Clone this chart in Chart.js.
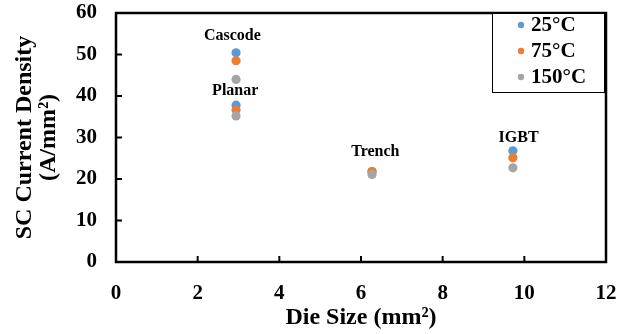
<!DOCTYPE html>
<html>
<head>
<meta charset="utf-8">
<script src="https://cdn.jsdelivr.net/npm/chart.js@4"></script>
<style>
html, body { margin: 0; padding: 0; background: #fff; }
#wrap { width: 632px; height: 334px; }
</style>
</head>
<body>
<div id="wrap"><canvas id="grafico" width="632" height="334"></canvas></div>
<script>
// series + device names
const tempLabels = ['25°C', '75°C', '150°C'];
const tempColors = ['#5B9BD5', '#ED7D31', '#A5A5A5'];
const deviceNames = ['Cascode', 'Planar', 'Trench', 'IGBT'];
const dieSize = [2.94, 2.94, 6.27, 9.72];
const density25 = [50.4, 37.8, 21.8, 26.8];
const density75 = [48.5, 36.6, 21.8, 25.1];
const density150 = [44.0, 35.2, 21.1, 22.7];
// where the device names sit (data units)
const nameX = [2.85, 2.92, 6.35, 9.86];
const nameY = [54.6, 41.2, 26.6, 29.8];

const serif = 'Liberation Serif, Times New Roman, serif';
const allSeries = [density25, density75, density150];

// frame round the plot, with tick marks pointing inward
const framePlugin = {
	id: 'frame',
	beforeDatasetsDraw(chart) {
		const { ctx, chartArea: a, scales } = chart;
		ctx.save();
		ctx.strokeStyle = '#000';
		ctx.lineWidth = 2;
		scales.x.ticks.forEach((t) => {
			const px = scales.x.getPixelForValue(t.value);
			if (px <= a.left + 1 || px >= a.right - 1) return;
			ctx.beginPath();
			ctx.moveTo(px, a.bottom);
			ctx.lineTo(px, a.bottom - 6);
			ctx.stroke();
		});
		scales.y.ticks.forEach((t) => {
			const py = scales.y.getPixelForValue(t.value);
			if (py <= a.top + 1 || py >= a.bottom - 1) return;
			ctx.beginPath();
			ctx.moveTo(a.left, py);
			ctx.lineTo(a.left + 6, py);
			ctx.stroke();
		});
		ctx.lineWidth = 2.5;
		ctx.strokeRect(a.left, a.top, a.right - a.left, a.bottom - a.top);
		ctx.restore();
	},
	afterDraw(chart) {
		const { ctx, chartArea: a, scales } = chart;
		ctx.save();
		// device names
		ctx.fillStyle = '#000';
		ctx.font = 'bold 16px ' + serif;
		ctx.textAlign = 'center';
		ctx.textBaseline = 'middle';
		deviceNames.forEach((n, i) => {
			ctx.fillText(n, scales.x.getPixelForValue(nameX[i]), scales.y.getPixelForValue(nameY[i]));
		});
		// legend box
		const bx = a.right - 114, by = a.top, bw = 112, bh = 79;
		ctx.fillStyle = '#fff';
		ctx.fillRect(bx, by, bw, bh);
		ctx.strokeStyle = '#000';
		ctx.lineWidth = 1;
		ctx.strokeRect(bx + 0.5, by + 0.5, bw, bh);
		ctx.font = 'bold 21px ' + serif;
		ctx.textAlign = 'left';
		chart.data.datasets.forEach((ds, i) => {
			const y = by + 12 + i * 26;
			ctx.fillStyle = ds.backgroundColor;
			ctx.beginPath();
			ctx.arc(bx + 29, y, 3.2, 0, Math.PI * 2);
			ctx.fill();
			ctx.fillStyle = '#000';
			ctx.fillText(ds.label, bx + 39, y + 1);
		});
		ctx.restore();
	}
};

const grafico = document.getElementById('grafico').getContext('2d');
const myChart = new Chart(grafico, {
	type: 'scatter',
	data: {
		datasets: tempLabels.map((lbl, i) => ({
			label: lbl,
			data: dieSize.map((x, j) => ({ x: x, y: allSeries[i][j] })),
			backgroundColor: tempColors[i],
			borderColor: tempColors[i],
			borderWidth: 0,
			pointRadius: 4.6,
			order: 2 - i
		}))
	},
	options: {
		responsive: false,
		animation: false,
		layout: { padding: { left: 0, right: 26, top: 13, bottom: 0 } },
		plugins: { legend: { display: false }, tooltip: { enabled: false } },
		scales: {
			x: {
				type: 'linear',
				min: 0, max: 12,
				afterFit: (s) => { s.height = 72; s.paddingLeft = 0; s.paddingRight = 0; },
				grid: { display: false, drawTicks: false },
				border: { display: false },
				ticks: { stepSize: 2, padding: 19, color: '#000', font: { family: serif, size: 21, weight: 'bold' } },
				title: { display: true, text: 'Die Size (mm²)', color: '#000', padding: { top: 0, bottom: 4 }, font: { family: serif, size: 24, weight: 'bold', lineHeight: 1 } }
			},
			y: {
				min: 0, max: 60,
				afterFit: (s) => { s.width = 116; s.paddingTop = 0; s.paddingBottom = 0; },
				grid: { display: false, drawTicks: false },
				border: { display: false },
				ticks: { stepSize: 10, padding: 19, color: '#000', font: { family: serif, size: 21, weight: 'bold' } },
				title: { display: true, text: ['SC Current Density', '(A/mm²)'], color: '#000', padding: { top: 13, bottom: 0 }, font: { family: serif, size: 24, weight: 'bold', lineHeight: 1 } }
			}
		}
	},
	plugins: [framePlugin]
});
</script>
</body>
</html>
